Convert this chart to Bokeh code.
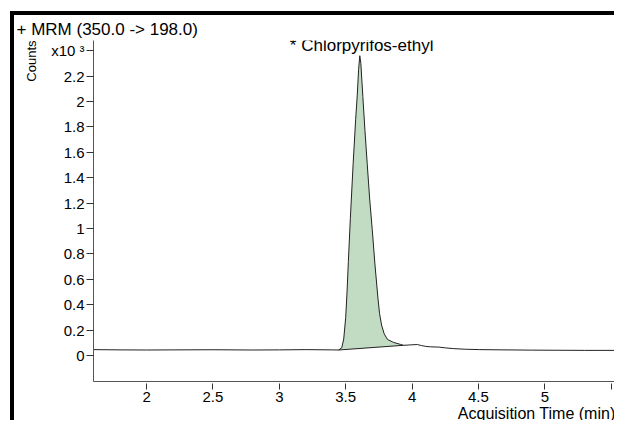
import numpy as np
from bokeh.plotting import figure
from bokeh.models import Label, FixedTicker, Range1d, Title
from bokeh.embed import file_html
from bokeh.resources import INLINE

# ---- data ----
time_min = [1.60, 1.80, 2.00, 2.20, 2.50, 2.80, 3.00, 3.20, 3.40, 3.446,
            3.470, 3.485, 3.500, 3.510, 3.520, 3.535, 3.556, 3.575, 3.587, 3.597,
            3.606, 3.614, 3.622, 3.629, 3.645, 3.662, 3.680, 3.700, 3.720, 3.742,
            3.755, 3.770, 3.790, 3.815, 3.860, 3.913, 3.935, 3.970, 4.000, 4.040,
            4.070, 4.100, 4.140, 4.200, 4.250, 4.310, 4.400, 4.510, 4.700, 4.900,
            5.100, 5.300, 5.560]
counts_k = [0.046, 0.044, 0.043, 0.044, 0.045, 0.043, 0.044, 0.046, 0.044, 0.043,
            0.060, 0.130, 0.300, 0.500, 0.740, 1.080, 1.510, 1.860, 2.050, 2.250,
            2.360, 2.300, 2.160, 2.040, 1.770, 1.510, 1.240, 0.990, 0.720, 0.460,
            0.330, 0.240, 0.170, 0.126, 0.103, 0.087, 0.080, 0.082, 0.084, 0.086,
            0.078, 0.072, 0.068, 0.066, 0.060, 0.054, 0.049, 0.046, 0.044, 0.042,
            0.041, 0.040, 0.040]
peak_start = (3.446, 0.043)
peak_end = (3.935, 0.080)

x_ticks = [2, 2.5, 3, 3.5, 4, 4.5, 5, 5.5]
x_tick_labels = ["2", "2.5", "3", "3.5", "4", "4.5", "5", ""]
y_ticks = [0, 0.2, 0.4, 0.6, 0.8, 1, 1.2, 1.4, 1.6, 1.8, 2, 2.2, 2.4]
y_tick_labels = ["0", "0.2", "0.4", "0.6", "0.8", "1", "1.2", "1.4", "1.6", "1.8", "2", "2.2", "x10 \u00b3"]

title_text = "+ MRM (350.0 -> 198.0)"
compound = "* Chlorpyrifos-ethyl"
y_title = "Counts"
x_title = "Acquisition Time (min)"

FONT = "Liberation Sans"

p = figure(width=604, height=409, output_backend="svg", toolbar_location=None,
           x_range=Range1d(1.60, 5.555), y_range=Range1d(-0.205, 2.48),
           min_border_left=79, min_border_top=25, min_border_bottom=43, min_border_right=0,
           title=None)
p.margin = (11, 0, 0, 10)
p.styles = {"border-top": "4px solid black", "border-left": "4px solid black"}
p.outline_line_color = None
p.grid.visible = False
p.background_fill_color = "white"
p.border_fill_color = "white"

# filled peak area between curve and integration baseline
t = np.array(time_min)
c = np.array(counts_k)
mask = (t >= peak_start[0]) & (t <= peak_end[0])
tx = t[mask]
base = np.interp(tx, [peak_start[0], peak_end[0]], [peak_start[1], peak_end[1]])
p.varea(x=tx, y1=base, y2=c[mask], fill_color="#c2dcc4")
p.line(x=[peak_start[0], peak_end[0]], y=[peak_start[1], peak_end[1]], line_color="#222222", line_width=1)
p.line(x=time_min, y=counts_k, line_color="#222222", line_width=1)

# axes
for ax in (p.xaxis[0], p.yaxis[0]):
    ax.axis_line_color = "#555555"
    ax.major_tick_line_color = "#333333"
    ax.minor_tick_line_color = None
    ax.major_label_text_font = FONT
    ax.major_label_text_font_size = "15px"
    ax.major_label_text_color = "black"

p.xaxis.ticker = FixedTicker(ticks=x_ticks)
p.xaxis.major_label_overrides = dict(zip(x_ticks, x_tick_labels))
p.xaxis.major_tick_in = -2
p.xaxis.major_tick_out = 8
p.xaxis.major_label_standoff = 2

p.yaxis.ticker = FixedTicker(ticks=y_ticks)
p.yaxis.major_label_overrides = dict(zip(y_ticks, y_tick_labels))
p.yaxis.major_tick_in = 0
p.yaxis.major_tick_out = 7
p.yaxis.major_label_standoff = 2

# titles around the frame
p.add_layout(Title(text=title_text, align="left", offset=-77, text_font=FONT, vertical_align="top",
                   text_font_size="17px", text_font_style="normal", text_color="black",
                   standoff=0), "above")
p.add_layout(Title(text=y_title, align="right", offset=0, text_font=FONT, vertical_align="top",
                   text_font_size="13px", text_font_style="normal", text_color="black",
                   standoff=15), "left")
p.add_layout(Title(text=x_title, align="right", offset=3, text_font=FONT, vertical_align="top",
                   text_font_size="16px", text_font_style="normal", text_color="black",
                   standoff=0), "below")

# compound annotation inside the frame
p.add_layout(Label(x=3.62, y=2.44, text=compound, text_align="center", text_baseline="middle",
                   text_font=FONT, text_font_size="17px", text_color="black"))

open("out.html", "w").write(file_html(p, INLINE))
